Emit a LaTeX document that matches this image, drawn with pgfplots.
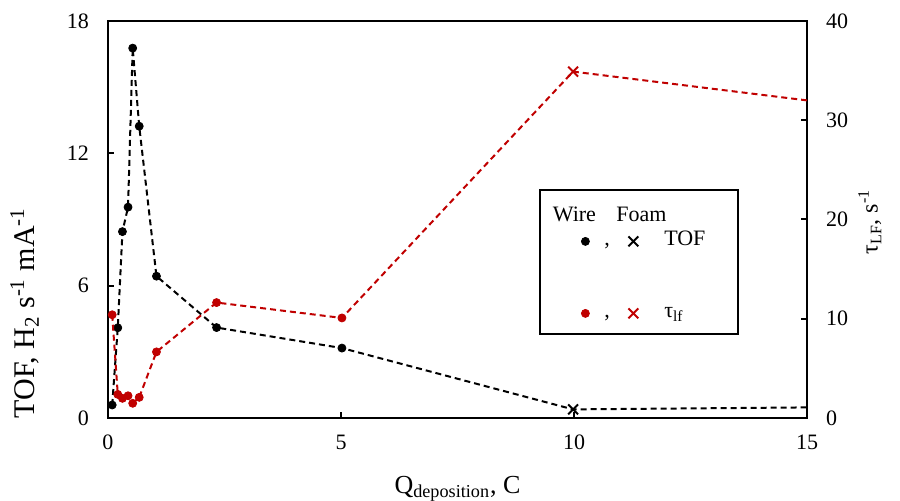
\documentclass[border=0pt]{standalone}
\usepackage{fontspec}
\setmainfont{Liberation Serif}
\usepackage{pgfplots}
\usepackage{pgfplotstable}
\pgfplotsset{compat=1.18}
\definecolor{exred}{RGB}{192,0,0}

\pgfplotstableread{
x tof tau
0.09 0.59 10.4
0.21 4.09 2.38
0.31 8.45 1.98
0.43 9.56 2.24
0.53 16.77 1.48
0.67 13.23 2.08
1.04 6.43 6.66
2.33 4.10 11.63
5.02 3.17 10.08
9.98 0.39 34.9
15.0 0.48 32.0
}\alldata

\pgfplotstableread{
x tof tau
0.09 0.59 10.4
0.21 4.09 2.38
0.31 8.45 1.98
0.43 9.56 2.24
0.53 16.77 1.48
0.67 13.23 2.08
1.04 6.43 6.66
2.33 4.10 11.63
5.02 3.17 10.08
}\wiredata

\pgfplotstableread{
x tof tau
9.98 0.39 34.9
}\foamdata

\begin{document}
\begin{tikzpicture}
\begin{axis}[
  at={(0,0)}, anchor=south west, scale only axis,
  width=349.5pt, height=198.5pt,
  xmin=0, xmax=15, ymin=0, ymax=18,
  xtick={0,5,10,15}, ytick={0,6,12,18},
  xtick pos=left, ytick pos=left,
  tick align=inside, major tick length=3pt,
  axis line style={-, line width=1pt},
  every tick/.style={black, line width=1pt},
  /pgf/number format/assume math mode=true,
  tick label style={font=\fontsize{11}{13}\selectfont},
  xticklabel style={yshift=-5pt},
  yticklabel style={xshift=-6pt},
  xlabel={Q\textsubscript{deposition}, C},
  ylabel={TOF, H\textsubscript{2} s\textsuperscript{-1} mA\textsuperscript{-1}},
  every axis x label/.style={at={(axis description cs:0.5,-0.178)}, anchor=center, font=\fontsize{13}{15}\selectfont},
  every axis y label/.style={at={(axis description cs:-0.119,0.265)}, anchor=center, rotate=90, font=\fontsize{15}{17}\selectfont},
  clip=false,
  legend columns=2,
  legend cell align=left,
  legend style={draw=none, fill=none, inner sep=0pt, at={(rel axis cs:0.6767,0.5365)}, anchor=north west,
    font=\fontsize{11}{11}\selectfont,
    nodes={inner sep=0.5pt, text height=7.7pt, text depth=3.3pt},
    row sep=0pt, column sep=0pt,
    /tikz/column 1/.style={column sep=7pt},
    /tikz/column 2/.style={column sep=8.75pt},
    /tikz/column 3/.style={column sep=12.5pt}},
]
\addplot[forget plot, black, line width=1pt, dash pattern=on 3pt off 2pt] table[x=x,y=tof]{\alldata};
\addplot[forget plot, only marks, mark=*, mark size=2pt, black] table[x=x,y=tof]{\wiredata};
\addplot[forget plot, only marks, mark=x, mark size=3.5pt, black, mark options={line width=1pt}] table[x=x,y=tof]{\foamdata};
\draw[line width=0.75pt] (rel axis cs:0.618,0.2116) rectangle (rel axis cs:0.901,0.574);

\addlegendimage{legend image code/.code={\node[overlay, inner sep=0pt, anchor=center] at (-5.5pt,0) {Wire};}}
\addlegendentry{\mbox{}}
\addlegendimage{legend image code/.code={\node[overlay, inner sep=0pt, anchor=center] at (4pt,0) {Foam};}}
\addlegendentry{\mbox{}}
\addlegendimage{legend image code/.code={\draw[only marks, mark=*, mark size=2pt, black] plot coordinates {(0pt,0pt)};}}
\addlegendentry{,}
\addlegendimage{legend image code/.code={\draw[only marks, mark=x, mark size=3.5pt, black, line width=1pt] plot coordinates {(0pt,0pt)};}}
\addlegendentry{TOF}
\addlegendimage{empty legend}
\addlegendentry{\mbox{}}
\addlegendimage{empty legend}
\addlegendentry{\mbox{}}
\addlegendimage{empty legend}
\addlegendentry{\mbox{}}
\addlegendimage{empty legend}
\addlegendentry{\mbox{}}
\addlegendimage{legend image code/.code={\draw[only marks, mark=*, mark size=2pt, exred] plot coordinates {(0pt,0pt)};}}
\addlegendentry{,}
\addlegendimage{legend image code/.code={\draw[only marks, mark=x, mark size=3.5pt, exred, line width=1pt] plot coordinates {(0pt,0pt)};}}
\addlegendentry{τ\textsubscript{lf}}
\end{axis}

\begin{axis}[
  at={(0,0)}, anchor=south west, scale only axis,
  width=349.5pt, height=198.5pt,
  xmin=0, xmax=15, ymin=0, ymax=40,
  axis x line=none, axis y line*=right,
  ytick={0,10,20,30,40},
  tick align=inside, major tick length=3pt,
  axis line style={-, line width=1pt},
  every tick/.style={black, line width=1pt},
  /pgf/number format/assume math mode=true,
  tick label style={font=\fontsize{11}{13}\selectfont},
  yticklabel style={xshift=6pt},
  ylabel={τ\textsubscript{LF}, s\textsuperscript{-1}},
  every axis y label/.style={at={(axis description cs:1.09,0.494)}, anchor=center, rotate=90, font=\fontsize{12}{14}\selectfont},
  clip=false,
]
\addplot[exred, line width=1pt, dash pattern=on 3pt off 2pt] table[x=x,y=tau]{\alldata};
\addplot[only marks, mark=*, mark size=2pt, exred] table[x=x,y=tau]{\wiredata};
\addplot[only marks, mark=x, mark size=3.5pt, exred, mark options={line width=1pt}] table[x=x,y=tau]{\foamdata};
\end{axis}
\pgfresetboundingbox
\useasboundingbox (-54pt,-41.5pt) rectangle (396pt,209pt);
\end{tikzpicture}
\end{document}
